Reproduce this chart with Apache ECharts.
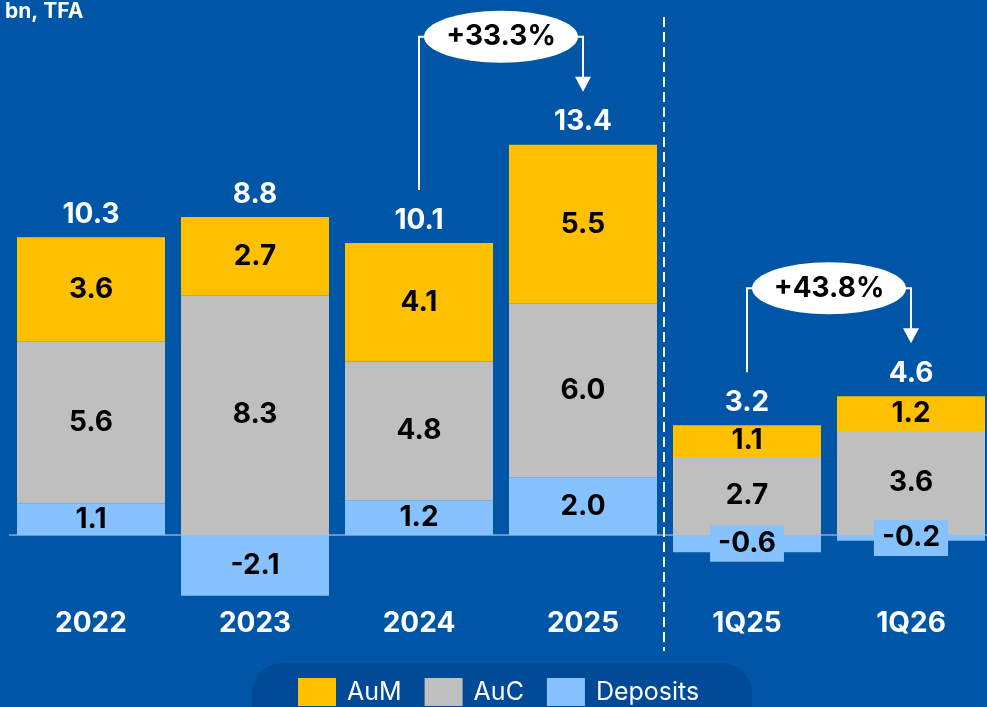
<!DOCTYPE html>
<html><head><meta charset="utf-8">
<script src="https://cdn.jsdelivr.net/npm/echarts@6/dist/echarts.min.js"></script>
<style>html,body{margin:0;padding:0;background:#0056A6;} #c{width:987px;height:707px;}</style>
</head><body><div id="c"></div>
<script>
const categories = ['2022', '2023', '2024', '2025', '1Q25', '1Q26'];
const deposits = [1.1, -2.1, 1.2, 2.0, -0.6, -0.2];
const auc = [5.6, 8.3, 4.8, 6.0, 2.7, 3.6];
const aum = [3.6, 2.7, 4.1, 5.5, 1.1, 1.2];
const totals = [10.3, 8.8, 10.1, 13.4, 3.2, 4.6];
const growthFrom = [2, 4];
const growthTo = [3, 5];
const growthText = ['+33.3%', '+43.8%'];
const unitLabel = 'bn, TFA';
const seriesNames = ['AuM', 'AuC', 'Deposits'];

const FONT = 'Inter';
const C_AUM = '#FFC000', C_AUC = '#BFBFBF', C_DEP = '#85C2FF';

const chart = echarts.init(document.getElementById('c'));

const inLabel = {
  show: true, position: 'inside', color: '#000', fontFamily: FONT,
  fontWeight: 'bold', fontSize: 28, formatter: p => p.value.toFixed(1)
};

const depData = deposits.map(v => (v < 0 && v > -1)
  ? { value: v, label: { backgroundColor: C_DEP, padding: [5, 8, 3, 8] } }
  : v);

const stackTop = categories.map((_, i) =>
  [deposits[i], auc[i], aum[i]].filter(v => v > 0).reduce((a, b) => a + b, 0));

chart.setOption({
  backgroundColor: '#0056A6',
  animation: false,
  title: {
    text: unitLabel, left: 5, top: 1, padding: 0,
    textStyle: { color: '#fff', fontFamily: FONT, fontWeight: 'bold', fontSize: 21 }
  },
  legend: {
    data: seriesNames, left: 298, top: 678, padding: 0,
    icon: 'rect', itemWidth: 38, itemHeight: 28, itemGap: 23,
    textStyle: { color: '#fff', fontFamily: FONT, fontSize: 25, padding: [0, 0, 0, 6] }
  },
  grid: { left: 9, right: -6, top: 72.6, bottom: 99.75, outerBoundsMode: 'none', containLabel: false },
  xAxis: {
    type: 'category', data: categories,
    axisLine: { show: false, onZero: false },
    axisTick: { show: false },
    axisLabel: { color: '#fff', fontFamily: FONT, fontWeight: 'bold', fontSize: 28, margin: 2 }
  },
  yAxis: { type: 'value', min: -2.5, max: 16, show: false, splitLine: { show: false } },
  series: [
    { name: 'Deposits', type: 'bar', stack: 's', barWidth: 148, data: depData,
      itemStyle: { color: C_DEP }, label: inLabel, z: 3,
      markLine: { silent: true, symbol: 'none', z: 1, label: { show: false },
        lineStyle: { color: '#8FA9CC', width: 1.5, type: 'solid' },
        data: [{ yAxis: 0 }] } },
    { name: 'AuC', type: 'bar', stack: 's', barWidth: 148, data: auc, z: 3,
      itemStyle: { color: C_AUC }, label: inLabel },
    { name: 'AuM', type: 'bar', stack: 's', barWidth: 148, data: aum, z: 3,
      itemStyle: { color: C_AUM }, label: inLabel },
    { name: 'Total', type: 'bar', stack: 's', barWidth: 148, data: totals.map(() => 0), z: 3,
      itemStyle: { color: 'transparent' },
      label: { show: true, position: 'top', distance: 9, color: '#fff', fontFamily: FONT,
        fontWeight: 'bold', fontSize: 28, formatter: p => totals[p.dataIndex].toFixed(1) } }
  ]
});

function px(i, v) { return chart.convertToPixel({ gridIndex: 0 }, [i, v]); }

const g = [];
// legend box
g.push({ type: 'rect', z: 0, shape: { x: 252, y: 663, width: 500, height: 90, r: 30 },
  style: { fill: '#004A98' } });
// dashed separator
const sepX = (px(3, 0)[0] + px(4, 0)[0]) / 2 - 1;
g.push({ type: 'line', z: 1, shape: { x1: sepX, y1: 17, x2: sepX, y2: 651 },
  style: { stroke: '#fff', lineWidth: 2, lineDash: [10, 5] } });

growthFrom.forEach((a, k) => {
  const b = growthTo[k];
  const p1 = px(a, stackTop[a]), p2 = px(b, stackTop[b]);
  const x1 = p1[0], x2 = p2[0];
  const lineBottom = p1[1] - 53, tip = p2[1] - 53;
  const cy = Math.min(p1[1], p2[1]) - 108;
  const cx = (x1 + x2) / 2, rx = 77, ry = 26;
  g.push({ type: 'polyline', z: 5, shape: { points: [[x1, lineBottom], [x1, cy], [cx - rx + 3, cy]] },
    style: { stroke: '#fff', lineWidth: 2, fill: null } });
  g.push({ type: 'polyline', z: 5, shape: { points: [[cx + rx - 3, cy], [x2, cy], [x2, tip - 14]] },
    style: { stroke: '#fff', lineWidth: 2, fill: null } });
  g.push({ type: 'polygon', z: 5, shape: { points: [[x2 - 8, tip - 15], [x2 + 8, tip - 15], [x2, tip]] },
    style: { fill: '#fff' } });
  g.push({ type: 'ellipse', z: 6, shape: { cx: cx, cy: cy, rx: rx, ry: ry }, style: { fill: '#fff' } });
  g.push({ type: 'text', z: 7, x: cx, y: cy,
    style: { text: growthText[k], fill: '#000', font: 'bold 28px ' + FONT,
      align: 'center', verticalAlign: 'middle', textAlign: 'center', textVerticalAlign: 'middle' } });
});

chart.setOption({ graphic: g });
</script></body></html>
